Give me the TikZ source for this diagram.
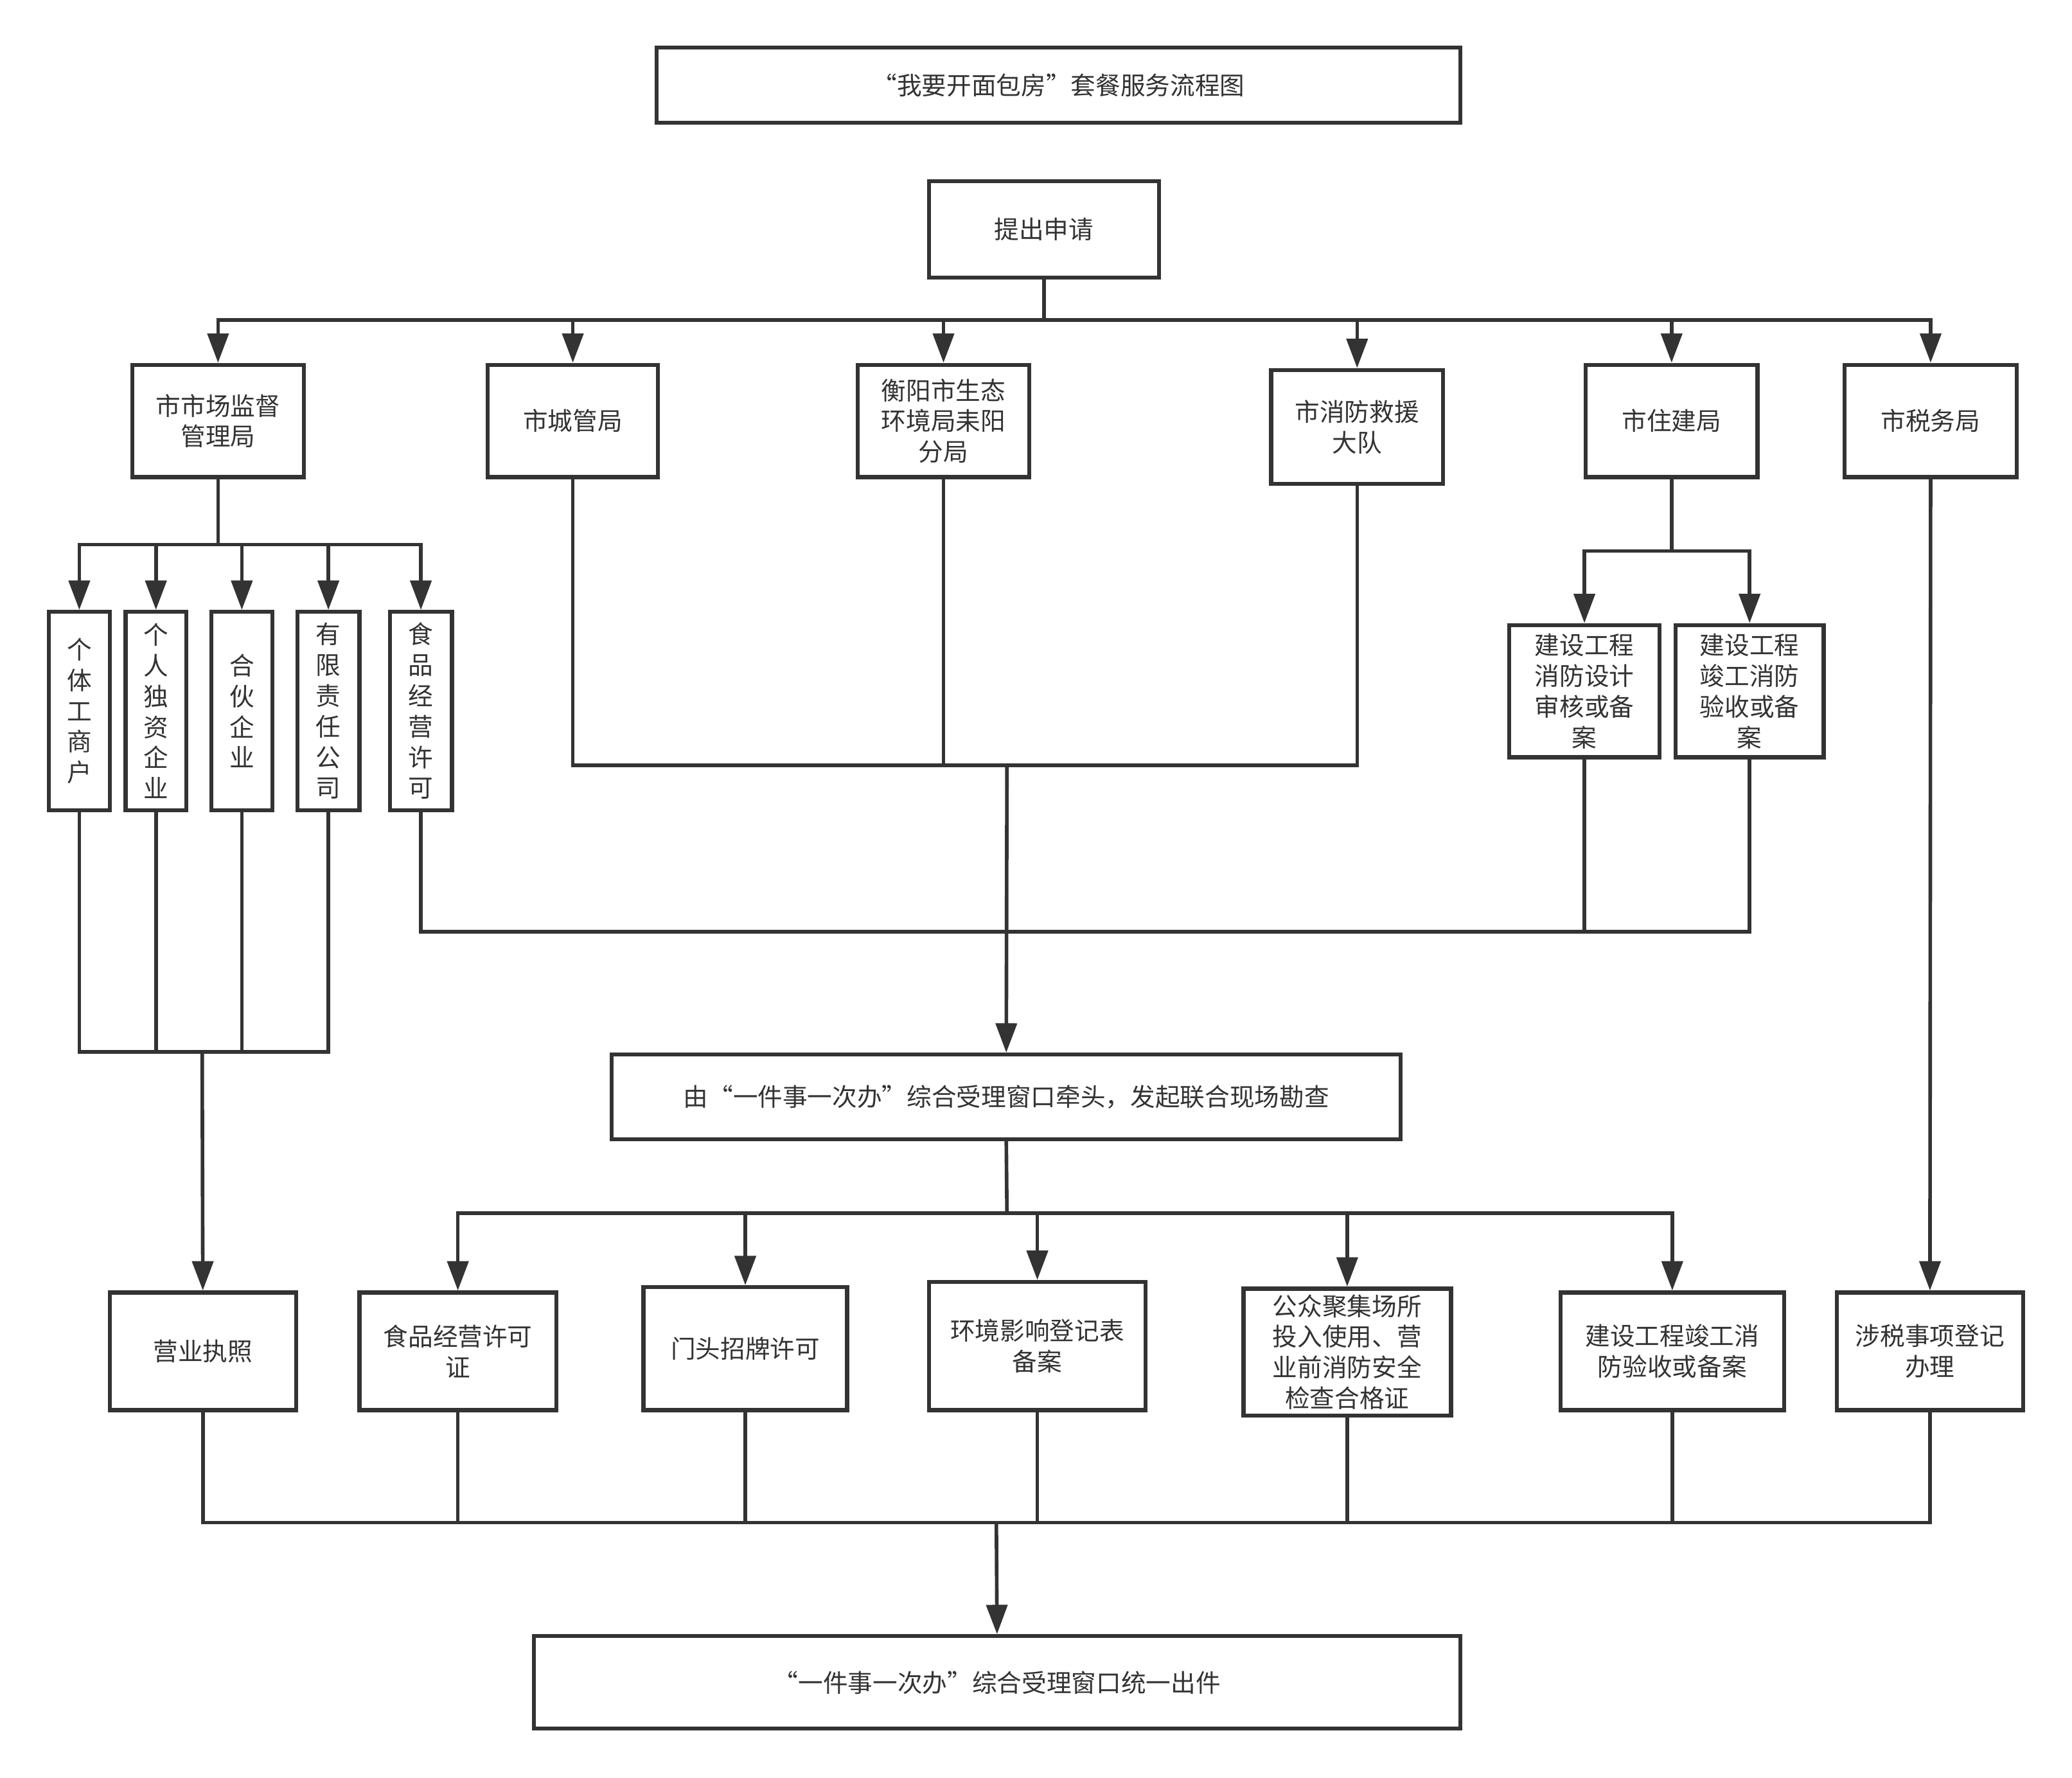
\documentclass[tikz,border=0pt]{standalone}
\usepackage{fontspec}
\newfontfamily\cjk{Noto Sans CJK SC}
\usetikzlibrary{arrows.meta}
\definecolor{ink}{HTML}{333333}
\tikzset{
  box/.style={draw=ink, line width=1.8pt, fill=white, text=ink, align=center, inner sep=1pt, font={\cjk\fontsize{11}{13.6}\selectfont}},
  sz/.style 2 args={minimum width=#1*0.2057mm, minimum height=#2*0.2057mm},
  link/.style={draw=ink, line width=1.6pt},
  arr/.style={link, -{Triangle[length=13pt,width=9.3pt]}},
}
\begin{document}
\begin{tikzpicture}[x=0.2057mm, y=-0.2057mm]
    \useasboundingbox (0,0) rectangle (1568,1345);

    % title and start
    \node[box, sz={608}{57}] at (801,64.5)   (title) {“我要开面包房”套餐服务流程图};
    \node[box, sz={174}{73}] at (790,173.5)  (req)   {提出申请};

    % departments
    \node[box, sz={130}{85}] at (165,318.5)  (scm) {市市场监督\\管理局};
    \node[box, sz={129}{85}] at (433.5,318.5) (cg)  {市城管局};
    \node[box, sz={130}{85}] at (714,318.5)  (hb)  {衡阳市生态\\环境局耒阳\\分局};
    \node[box, sz={130}{86}] at (1027,323)   (xf)  {市消防救援\\大队};
    \node[box, sz={130}{85}] at (1265,318.5) (zj)  {市住建局};
    \node[box, sz={130}{85}] at (1461,318.5) (sw)  {市税务局};

    % market supervision items
    \node[box, sz={46}{150}] at (60,538)    (gt) {个\\体\\工\\商\\户};
    \node[box, sz={46}{150}] at (118,538)   (gr) {个\\人\\独\\资\\企\\业};
    \node[box, sz={46}{150}] at (183,538)   (hh) {合\\伙\\企\\业};
    \node[box, sz={47}{150}] at (248.5,538) (yx) {有\\限\\责\\任\\公\\司};
    \node[box, sz={47}{150}] at (318.5,538) (sp) {食\\品\\经\\营\\许\\可};

    % housing items
    \node[box, sz={114}{100}] at (1199,523) (js1) {建设工程\\消防设计\\审核或备\\案};
    \node[box, sz={112}{100}] at (1324,523) (js2) {建设工程\\竣工消防\\验收或备\\案};

    % joint inspection
    \node[box, sz={597}{64}] at (761.5,830) (lead) {由“一件事一次办”综合受理窗口牵头，发起联合现场勘查};

    % results
    \node[box, sz={141}{89}] at (153.5,1022.5)  (yyzz) {营业执照};
    \node[box, sz={149}{89}] at (346.5,1022.5)  (spz)  {食品经营许可\\证};
    \node[box, sz={154}{93}] at (564,1020.5)    (mt)   {门头招牌许可};
    \node[box, sz={164}{97}] at (785,1018.5)    (hj)   {环境影响登记表\\备案};
    \node[box, sz={157}{96}] at (1019.5,1023)   (gz)   {公众聚集场所\\投入使用、营\\业前消防安全\\检查合格证};
    \node[box, sz={169}{89}] at (1265.5,1022.5) (jg)   {建设工程竣工消\\防验收或备案};
    \node[box, sz={141}{89}] at (1460.5,1022.5) (ss)   {涉税事项登记\\办理};

    \node[box, sz={701}{70}] at (754.5,1273) (out) {“一件事一次办”综合受理窗口统一出件};

    % junctions
    \coordinate (j_req)  at (790,242);
    \coordinate (j_scm)  at (165,412);
    \coordinate (j_zj)   at (1265,417);
    \coordinate (j_mid)  at (762,579);
    \coordinate (j_low)  at (762,705);
    \coordinate (j_lic)  at (153,796);
    \coordinate (j_lead) at (762,918);
    \coordinate (j_out)  at (754,1152);

    % connectors
    \draw[link] (req.south) -- (j_req);
    \foreach \n in {scm,cg,hb,xf,zj,sw}
        \draw[arr] (j_req) -| (\n.north);

    \draw[link] (scm.south) -- (j_scm);
    \foreach \n in {gt,gr,hh,yx,sp}
        \draw[arr] (j_scm) -| (\n.north);

    \draw[link] (zj.south) -- (j_zj);
    \foreach \n in {js1,js2}
        \draw[arr] (j_zj) -| (\n.north);

    \foreach \n in {cg,hb,xf}
        \draw[link] (\n.south) |- (j_mid);
    \foreach \n in {sp,js1,js2}
        \draw[link] (\n.south) |- (j_low);
    \draw[arr] (j_mid) -- (lead.north);

    \foreach \n in {gt,gr,hh,yx}
        \draw[link] (\n.south) |- (j_lic);
    \draw[arr] (j_lic) -- (yyzz.north);

    \draw[link] (lead.south) -- (j_lead);
    \foreach \n in {spz,mt,hj,gz,jg}
        \draw[arr] (j_lead) -| (\n.north);

    \draw[arr] (sw.south) -- (ss.north);

    \foreach \n in {yyzz,spz,mt,hj,gz,jg,ss}
        \draw[link] (\n.south) |- (j_out);
    \draw[arr] (j_out) -- (out.north);
\end{tikzpicture}
\end{document}
